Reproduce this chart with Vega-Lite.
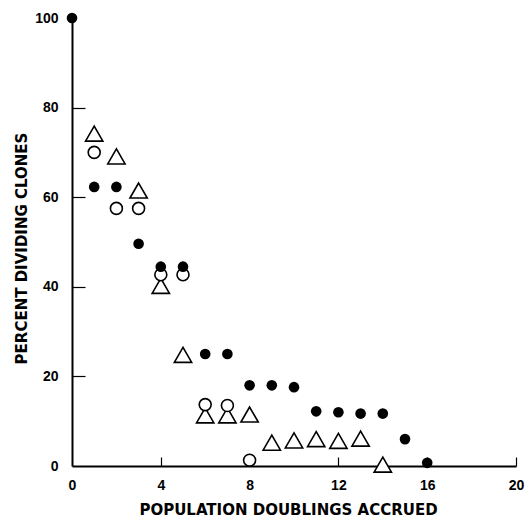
{
  "$schema": "https://vega.github.io/schema/vega-lite/v6.json",
  "width": 444,
  "height": 448,
  "autosize": {"type": "none"},
  "padding": {"left": 72, "top": 18, "right": 13, "bottom": 52},
  "background": "white",
  "config": {
    "view": {"stroke": null},
    "font": "Liberation Sans",
    "axis": {
      "grid": false,
      "domainColor": "black",
      "domainWidth": 2,
      "tickColor": "black",
      "tickWidth": 1.2,
      "labelFont": "Liberation Sans",
      "labelFontWeight": "bold",
      "labelFontSize": 14,
      "labelColor": "black",
      "titleFont": "DejaVu Sans",
      "titleFontWeight": "bold",
      "titleFontSize": 15,
      "titleColor": "black"
    }
  },
  "data": {
    "values": [
      {"series": "filled", "x": 0, "y": 100},
      {"series": "filled", "x": 1, "y": 62.3},
      {"series": "filled", "x": 2, "y": 62.3},
      {"series": "filled", "x": 3, "y": 49.6},
      {"series": "filled", "x": 4, "y": 44.5},
      {"series": "filled", "x": 5, "y": 44.5},
      {"series": "filled", "x": 6, "y": 25},
      {"series": "filled", "x": 7, "y": 25},
      {"series": "filled", "x": 8, "y": 18},
      {"series": "filled", "x": 9, "y": 18},
      {"series": "filled", "x": 10, "y": 17.6},
      {"series": "filled", "x": 11, "y": 12.2},
      {"series": "filled", "x": 12, "y": 12},
      {"series": "filled", "x": 13, "y": 11.7},
      {"series": "filled", "x": 14, "y": 11.7},
      {"series": "filled", "x": 15, "y": 6},
      {"series": "filled", "x": 16, "y": 0.7},
      {"series": "open", "x": 1, "y": 70},
      {"series": "open", "x": 2, "y": 57.5},
      {"series": "open", "x": 3, "y": 57.5},
      {"series": "open", "x": 4, "y": 42.7},
      {"series": "open", "x": 5, "y": 42.7},
      {"series": "open", "x": 6, "y": 13.7},
      {"series": "open", "x": 7, "y": 13.5},
      {"series": "open", "x": 8, "y": 1.3},
      {"series": "triangle", "x": 1, "y": 74.2},
      {"series": "triangle", "x": 2, "y": 69.1},
      {"series": "triangle", "x": 3, "y": 61.5},
      {"series": "triangle", "x": 4, "y": 40.2},
      {"series": "triangle", "x": 5, "y": 24.8},
      {"series": "triangle", "x": 6, "y": 11.3},
      {"series": "triangle", "x": 7, "y": 11.3},
      {"series": "triangle", "x": 8, "y": 11.5},
      {"series": "triangle", "x": 9, "y": 5.2},
      {"series": "triangle", "x": 10, "y": 5.7},
      {"series": "triangle", "x": 11, "y": 6},
      {"series": "triangle", "x": 12, "y": 5.6},
      {"series": "triangle", "x": 13, "y": 6.1},
      {"series": "triangle", "x": 14, "y": 0.3}
    ]
  },
  "encoding": {
    "x": {
      "field": "x",
      "type": "quantitative",
      "scale": {"domain": [0, 20], "nice": false, "zero": false},
      "axis": {
        "values": [0, 4, 8, 12, 16, 20],
        "tickSize": -9,
        "tickOpacity": {"condition": {"test": "datum.value === 0", "value": 0}, "value": 1},
        "labelPadding": 21,
        "labelFlush": false,
        "titlePadding": 10,
        "titleX": 216,
        "title": "POPULATION DOUBLINGS ACCRUED"
      }
    },
    "y": {
      "field": "y",
      "type": "quantitative",
      "scale": {"domain": [0, 100], "nice": false},
      "axis": {
        "values": [0, 20, 40, 60, 80, 100],
        "tickSize": -13,
        "tickOpacity": {"condition": {"test": "datum.value === 0 || datum.value === 100", "value": 0}, "value": 1},
        "labelPadding": 27,
        "labelFlush": false,
        "titlePadding": 5,
        "titleY": 230,
        "title": "PERCENT DIVIDING CLONES"
      }
    }
  },
  "layer": [
    {
      "transform": [{"filter": "datum.series === 'triangle'"}],
      "mark": {"type": "point", "shape": "triangle-up", "size": 300, "filled": false, "fill": "white", "fillOpacity": 1, "stroke": "black", "strokeWidth": 1.6, "opacity": 1}
    },
    {
      "transform": [{"filter": "datum.series === 'open'"}],
      "mark": {"type": "point", "shape": "circle", "size": 143, "filled": false, "fill": "white", "fillOpacity": 1, "stroke": "black", "strokeWidth": 1.6, "opacity": 1}
    },
    {
      "transform": [{"filter": "datum.series === 'filled'"}],
      "mark": {"type": "point", "shape": "circle", "size": 113, "filled": true, "fill": "black", "stroke": null, "opacity": 1}
    }
  ]
}
